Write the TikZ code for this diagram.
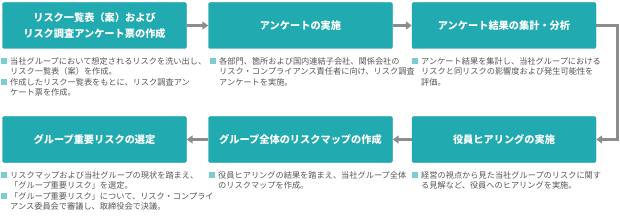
\documentclass[tikz,border=0pt]{standalone}
\usepackage{fontspec}
\setmainfont{Noto Sans CJK JP}
\usepackage{tikz}
\usetikzlibrary{arrows.meta, positioning}
\definecolor{boxteal}{HTML}{21AAB0}
\definecolor{boxedge}{HTML}{1A9CA2}
\definecolor{bulteal}{HTML}{7CCCD0}
\definecolor{flowgray}{HTML}{8C8C8C}
\definecolor{desctext}{HTML}{555555}
\newcommand{\bul}{\textcolor{bulteal}{\rule{6pt}{6pt}}\hspace{3pt}}
\newcommand{\ind}{\hspace*{9pt}}

\begin{document}
\begin{tikzpicture}[x=1pt, y=-1pt,
    stage/.style={draw=boxedge, fill=boxteal, rounded corners=2pt, minimum width=184pt, minimum height=46pt, text=white, font=\fontsize{10.2}{16}\selectfont\bfseries, align=center, inner sep=0pt},
    desc/.style={anchor=north west, text=desctext, font=\fontsize{8.2}{10.5}\selectfont, align=left, inner sep=0pt},
    flow/.style={draw=flowgray, line width=3pt, -{Triangle[length=6pt, width=8pt]}}]
  \useasboundingbox (0,0) rectangle (620,216);
  \node[stage] (s1) at (94.5,25.5) {リスク一覧表（案）および\\リスク調査アンケート票の作成};
  \node[stage] (s2) at (300.5,25.5) {アンケートの実施};
  \node[stage] (s3) at (504,25.5) {アンケート結果の集計・分析};
  \node[stage] (s4) at (94.5,139.5) {グループ重要リスクの選定};
  \node[stage] (s5) at (300.5,139.5) {グループ全体のリスクマップの作成};
  \node[stage] (s6) at (504,139.5) {役員ヒアリングの実施};

  \node[desc] (d1) at (1,57) {\bul 当社グループにおいて想定されるリスクを洗い出し、\\\ind リスク一覧表（案）を作成。\\\bul 作成したリスク一覧表をもとに、リスク調査アン\\\ind ケート票を作成。};
  \node[desc] (d2) at (210,57) {\bul 各部門、箇所および国内連結子会社、関係会社の\\\ind リスク・コンプライアンス責任者に向け、リスク調査\\\ind アンケートを実施。};
  \node[desc] (d3) at (412,57) {\bul アンケート結果を集計し、当社グループにおける\\\ind リスクと同リスクの影響度および発生可能性を\\\ind 評価。};
  \node[desc] (d4) at (1,171) {\bul リスクマップおよび当社グループの現状を踏まえ、\\\ind 「グループ重要リスク」を選定。\\\bul 「グループ重要リスク」について、リスク・コンプライ\\\ind アンス委員会で審議し、取締役会で決議。};
  \node[desc] (d5) at (209,171) {\bul 役員ヒアリングの結果を踏まえ、当社グループ全体\\\ind のリスクマップを作成。};
  \node[desc] (d6) at (412,171) {\bul 経営の視点から見た当社グループのリスクに関す\\\ind る見解など、役員へのヒアリングを実施。};

  \draw[flow] (s1) -- (s2);
  \draw[flow] (s2) -- (s3);
  \draw[flow] (s3.east) -- ++(21,0) |- (s6.east);
  \draw[flow] (s6) -- (s5);
  \draw[flow] (s5) -- (s4);
\end{tikzpicture}
\end{document}
